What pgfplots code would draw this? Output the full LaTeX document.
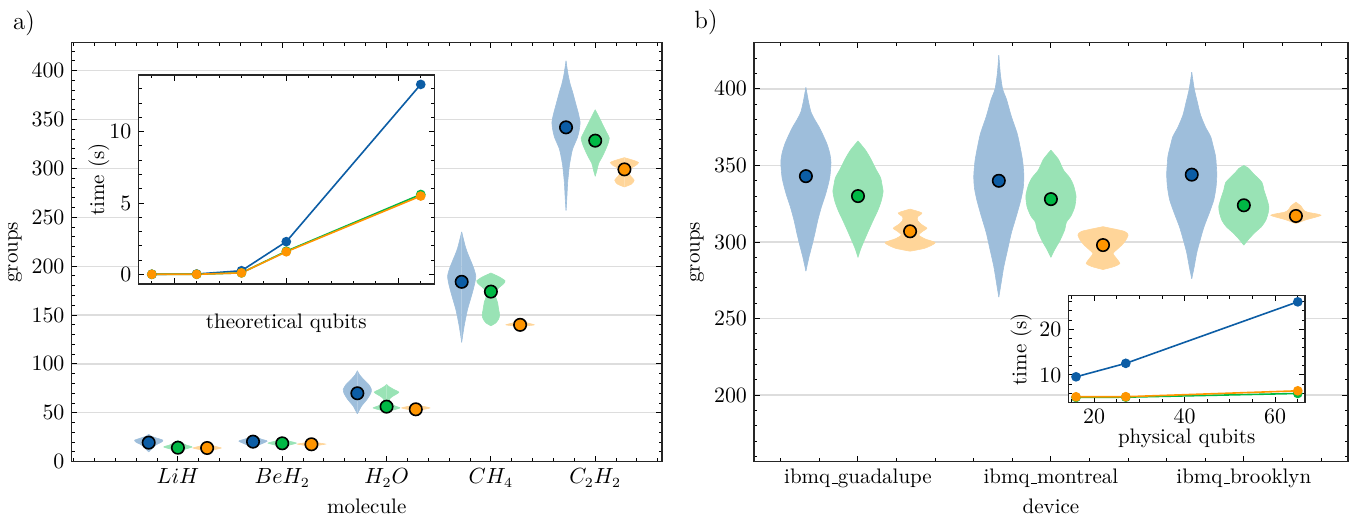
\documentclass[border=0pt]{standalone}
\usepackage{pgfplots}
\pgfplotsset{compat=1.18}

\definecolor{cblue}{HTML}{0C5DA5}
\definecolor{cgreen}{HTML}{00B945}
\definecolor{corange}{HTML}{FF9500}
\definecolor{gridc}{HTML}{DDDDDD}

\newcommand{\us}{\leavevmode\kern.06em\vbox{\hrule width.3em}}

\pgfplotsset{
  sci/.style={
    scale only axis,
    font=\fontsize{10.5}{12}\selectfont,
    tick align=inside,
    major tick length=2.8pt,
    minor tick length=1.6pt,
    every tick/.style={black, line width=0.5pt},
    axis line style={line width=0.6pt, black!85},
    grid style={gridc, line width=0.6pt},
  },
  vmark/.style={only marks, mark=*, mark size=3.1pt,
    mark options={draw=black, line width=0.8pt, fill=#1}},
  tline/.style={#1, line width=0.8pt, mark=*, mark size=2pt, mark options={fill=#1, draw=#1}},
}

% centre, half width, colour, profile (y w) -- each half filled from the centre line
\newcommand{\violin}[4]{%
  \addplot[fill=#3!40, draw=#3!40, line width=0.3pt, smooth, tension=0.4, forget plot]
    table[row sep=\\, x expr={#1+#2*\thisrow{w}}, y=y] {y w\\ #4};
  \addplot[fill=#3!40, draw=#3!40, line width=0.3pt, smooth, tension=0.4, forget plot]
    table[row sep=\\, x expr={#1-#2*\thisrow{w}}, y=y] {y w\\ #4};
}

\begin{document}
\begin{tikzpicture}
\useasboundingbox (0,0) rectangle (674.5pt,258.5pt);

% ---------------- a) ----------------
\begin{axis}[sci,
  at={(35.75pt,27.65pt)}, anchor=south west,
  width=295.25pt, height=209.5pt,
  xmin=-1.02, xmax=4.64, ymin=0, ymax=428.6,
  xtick={0,1,2,3,4},
  xticklabels={$LiH$,$BeH_2$,$H_2O$,$CH_4$,$C_2H_2$},
  minor xtick={-1,-0.8,...,4.6},
  ytick={0,50,...,400}, minor ytick={0,10,...,420},
  ymajorgrids,
  xlabel={molecule}, ylabel={groups},
  xlabel style={at={(axis description cs:0.5,-0.107)}, anchor=center},
  ylabel style={at={(axis description cs:-0.0955,0.5)}, anchor=center},
]
\violin{-0.28}{0.135}{cblue}{10 0\\ 13 0.2\\ 17 0.5\\ 20 0.9\\ 22 1\\ 24 0.6\\ 26 0.2\\ 28 0\\}
\violin{0}{0.135}{cgreen}{10 0\\ 12 0.3\\ 15 1\\ 17 0.6\\ 20 0.2\\ 22 0\\}
\violin{0.28}{0.135}{corange}{10 0\\ 12 0.4\\ 14 1\\ 16 0.5\\ 19 0.1\\ 20 0\\}
\violin{0.72}{0.135}{cblue}{14 0\\ 17 0.4\\ 21 1\\ 23 0.6\\ 26 0.1\\ 27 0\\}
\violin{1}{0.135}{cgreen}{15 0\\ 17 0.5\\ 19 1\\ 21 0.5\\ 23 0\\}
\violin{1.28}{0.135}{corange}{15 0\\ 17 0.6\\ 18 1\\ 19 0.6\\ 21 0\\}
\violin{1.72}{0.135}{cblue}{49 0\\ 53 0.15\\ 57 0.3\\ 64 0.7\\ 70 0.95\\ 74 1\\ 79 0.8\\ 84 0.45\\ 89 0.15\\ 93 0\\}
\violin{2}{0.135}{cgreen}{51 0\\ 53 0.5\\ 55 0.95\\ 57 0.6\\ 60 0.3\\ 64 0.2\\ 67 0.45\\ 71 0.87\\ 74 0.5\\ 77 0.15\\ 79 0\\}
\violin{2.28}{0.135}{corange}{51 0\\ 53 0.4\\ 55 1\\ 57 0.4\\ 59 0\\}
\violin{2.72}{0.135}{cblue}{122 0\\ 130 0.08\\ 139 0.18\\ 148 0.3\\ 156 0.42\\ 165 0.6\\ 173 0.76\\ 182 0.92\\ 190 1\\ 198 0.85\\ 207 0.6\\ 214 0.4\\ 220 0.26\\ 228 0.12\\ 235 0\\}
\violin{3}{0.135}{cgreen}{139 0\\ 142 0.35\\ 146 0.55\\ 150 0.62\\ 156 0.55\\ 163 0.47\\ 168 0.35\\ 172 0.3\\ 177 0.5\\ 182 0.9\\ 185 1\\ 189 0.6\\ 193 0\\}
\violin{3.28}{0.135}{corange}{137 0\\ 139 0.5\\ 140 1\\ 142 0.5\\ 144 0\\}
\violin{3.72}{0.135}{cblue}{257 0\\ 270 0.06\\ 286 0.12\\ 303 0.24\\ 312 0.35\\ 320 0.47\\ 332 0.82\\ 340 0.95\\ 347 1\\ 355 0.9\\ 362 0.77\\ 370 0.62\\ 378 0.47\\ 386 0.3\\ 395 0.16\\ 402 0.08\\ 410 0\\}
\violin{4}{0.135}{cgreen}{292 0\\ 298 0.12\\ 305 0.24\\ 312 0.5\\ 319 0.73\\ 325 0.9\\ 331 1\\ 337 0.8\\ 346 0.49\\ 353 0.25\\ 360 0\\}
\violin{4.28}{0.135}{corange}{281 0\\ 284 0.5\\ 288 0.69\\ 292 0.45\\ 296 0.3\\ 300 0.45\\ 303 0.8\\ 306 1\\ 308 0.7\\ 311 0\\}
\addplot[vmark=cblue] coordinates {(-0.28,19.5) (0.72,20.5) (1.72,70) (2.72,184) (3.72,342)};
\addplot[vmark=cgreen] coordinates {(0,14.3) (1,18.8) (2,56.3) (3,174) (4,328.4)};
\addplot[vmark=corange] coordinates {(0.28,14) (1.28,17.8) (2.28,53.6) (3.28,140) (4.28,299)};
\end{axis}

% inset a)
\begin{axis}[sci,
  at={(69.2pt,116.5pt)}, anchor=south west,
  width=147.9pt, height=104.5pt,
  axis background/.style={fill=white},
  xmin=13.4, xmax=26.6, ymin=-0.68, ymax=13.98,
  xtick={15,20,25}, xticklabels={}, minor xtick={14,...,26},
  ytick={0,5,10}, minor ytick={0,1,...,13},
  xlabel={theoretical qubits}, ylabel={time (s)},
  xlabel style={at={(axis description cs:0.5,-0.188)}, anchor=center},
  ylabel style={at={(axis description cs:-0.134,0.5)}, anchor=center},
]
\addplot[tline=cblue] coordinates {(14,0) (16,0.02) (18,0.25) (20,2.29) (26,13.32)};
\addplot[tline=cgreen] coordinates {(14,0) (16,0) (18,0.1) (20,1.62) (26,5.6)};
\addplot[tline=corange] coordinates {(14,0) (16,0) (18,0.1) (20,1.58) (26,5.49)};
\end{axis}

% ---------------- b) ----------------
\begin{axis}[sci,
  at={(377pt,27.65pt)}, anchor=south west,
  width=297pt, height=209.5pt,
  xmin=-0.539, xmax=2.54, ymin=156.5, ymax=430.2,
  xtick={0,1,2},
  xticklabels={ibmq\us guadalupe,ibmq\us montreal,ibmq\us brooklyn},
  minor xtick={-0.4,-0.2,...,2.4},
  ytick={200,250,...,400}, minor ytick={160,170,...,430},
  ymajorgrids,
  xlabel={device}, ylabel={groups},
  xlabel style={at={(axis description cs:0.5,-0.107)}, anchor=center},
  ylabel style={at={(axis description cs:-0.096,0.5)}, anchor=center},
]
\violin{-0.27}{0.13}{cblue}{281 0\\ 290 0.12\\ 297 0.23\\ 305 0.35\\ 314 0.47\\ 323 0.62\\ 332 0.8\\ 342 0.95\\ 352 1\\ 358 0.95\\ 364 0.84\\ 370 0.68\\ 375 0.53\\ 380 0.35\\ 385 0.2\\ 392 0.1\\ 401 0\\}
\violin{0}{0.13}{cgreen}{290 0\\ 296 0.12\\ 306 0.38\\ 314 0.6\\ 321 0.8\\ 327 0.93\\ 333 1\\ 338 0.95\\ 342 0.9\\ 348 0.7\\ 354 0.52\\ 360 0.3\\ 366 0\\}
\violin{0.27}{0.13}{corange}{294 0\\ 296 0.6\\ 299.5 1\\ 302 0.6\\ 304.5 0.35\\ 307 0.5\\ 309 0.67\\ 311.5 0.45\\ 314 0.3\\ 316.5 0.3\\ 319 0.47\\ 321.5 0\\}
\violin{0.73}{0.13}{cblue}{264 0\\ 274 0.1\\ 284 0.2\\ 295 0.35\\ 306 0.5\\ 317 0.7\\ 327 0.87\\ 335 0.97\\ 343 1\\ 353 0.95\\ 362 0.85\\ 371 0.73\\ 382 0.5\\ 393 0.31\\ 400 0.15\\ 410 0.06\\ 422 0\\}
\violin{1}{0.13}{cgreen}{290 0\\ 295 0.15\\ 301 0.36\\ 308 0.55\\ 313 0.62\\ 317 0.8\\ 323 0.95\\ 330 1\\ 337 0.9\\ 342 0.75\\ 347 0.5\\ 354 0.3\\ 360 0\\}
\violin{1.27}{0.13}{corange}{282 0\\ 284 0.45\\ 286 0.67\\ 289 0.55\\ 292.5 0.4\\ 295 0.55\\ 298 0.75\\ 301 0.9\\ 304.5 1\\ 307 0.85\\ 310 0\\}
\violin{1.73}{0.13}{cblue}{276 0\\ 284 0.1\\ 293 0.2\\ 301 0.33\\ 310 0.49\\ 319 0.7\\ 327.5 0.88\\ 336 0.97\\ 344 1\\ 350 0.98\\ 356 0.95\\ 363 0.85\\ 369 0.75\\ 375 0.55\\ 383 0.35\\ 391 0.23\\ 400 0.1\\ 411 0\\}
\violin{2}{0.13}{cgreen}{298 0\\ 302 0.2\\ 306 0.43\\ 310 0.7\\ 314 0.87\\ 319 0.97\\ 323 1\\ 328 0.92\\ 334 0.8\\ 339 0.72\\ 345 0.36\\ 348 0.2\\ 350 0\\}
\violin{2.27}{0.13}{corange}{312 0\\ 314.5 0.4\\ 317.5 1\\ 319.5 0.45\\ 321 0.3\\ 323.5 0.2\\ 326 0\\}
\addplot[vmark=cblue] coordinates {(-0.27,343) (0.73,340) (1.73,344)};
\addplot[vmark=cgreen] coordinates {(0,330) (1,328) (2,324)};
\addplot[vmark=corange] coordinates {(0.27,307) (1.27,298) (2.27,317)};
\end{axis}

% inset b)
\begin{axis}[sci,
  at={(534.2pt,57.35pt)}, anchor=south west,
  width=118.3pt, height=53.2pt,
  axis background/.style={fill=white},
  xmin=14.32, xmax=66.6, ymin=4.03, ymax=27.3,
  xtick={20,40,60}, minor xtick={15,20,...,65},
  ytick={10,20}, minor ytick={6,8,...,26},
  xlabel={physical qubits}, ylabel={time (s)},
  xlabel style={at={(axis description cs:0.5,-0.336)}, anchor=center},
  ylabel style={at={(axis description cs:-0.2,0.5)}, anchor=center},
]
\addplot[tline=cblue] coordinates {(16,9.6) (27,12.55) (65,26.0)};
\addplot[tline=cgreen] coordinates {(16,5.1) (27,5.15) (65,5.96)};
\addplot[tline=corange] coordinates {(16,5.23) (27,5.25) (65,6.54)};
\end{axis}

\node[font=\fontsize{12.5}{14}\selectfont] at (12pt,247pt) {a)};
\node[font=\fontsize{12.5}{14}\selectfont] at (353pt,247.5pt) {b)};
\end{tikzpicture}
\end{document}
